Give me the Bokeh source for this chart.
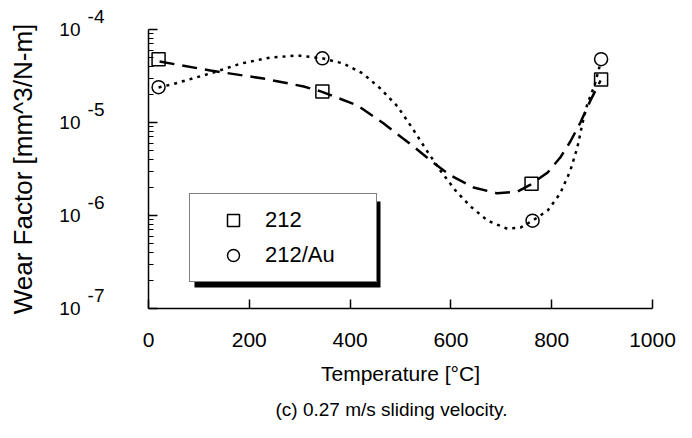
from bokeh.plotting import figure
from bokeh.models import (Range1d, FixedTicker, LogAxis, Legend, LegendItem,
                          BoxAnnotation, Title, CustomJSTickFormatter)
from bokeh.embed import file_html
from bokeh.resources import INLINE

FONT = "Liberation Sans"

# measured points
temp_212 = [20, 345, 760, 898]
wear_212 = [4.8e-5, 2.15e-5, 2.2e-6, 2.9e-5]
temp_au = [20, 345, 762, 898]
wear_au = [2.4e-5, 4.9e-5, 8.8e-7, 4.8e-5]

# fitted curves
curve_212_t = [22, 123, 228, 308, 343, 415, 466, 526, 565, 599, 645, 692, 732, 758,
               792, 817, 837, 857, 877, 897]
curve_212_w = [4.53e-5, 3.62e-5, 2.97e-5, 2.44e-5, 2.15e-5, 1.52e-5, 9.8e-6, 5.5e-6,
               3.7e-6, 2.7e-6, 2.0e-6, 1.73e-6, 1.81e-6, 2.15e-6, 2.9e-6, 4.2e-6,
               6.25e-6, 1.0e-5, 1.73e-5, 2.83e-5]
curve_au_t = [20, 50, 129, 183, 242, 296, 345, 387, 425, 460, 494, 524, 552, 579, 609,
              639, 673, 712, 738, 762, 792, 817, 837, 851, 861, 871, 885, 895]
curve_au_w = [2.38e-5, 2.6e-5, 3.45e-5, 4.3e-5, 5.0e-5, 5.25e-5, 4.9e-5, 4.3e-5,
              3.37e-5, 2.32e-5, 1.49e-5, 8.6e-6, 5.0e-6, 3.05e-6, 1.86e-6, 1.25e-6,
              8.8e-7, 7.2e-7, 7.4e-7, 8.8e-7, 1.13e-6, 1.73e-6, 3.05e-6, 5.4e-6,
              9.8e-6, 1.6e-5, 2.5e-5, 4.0e-5]

x_ticks = [0, 200, 400, 600, 800, 1000]
y_ticks = [1e-7, 1e-6, 1e-5, 1e-4]
y_tick_base = ["10", "10", "10", "10"]
y_tick_exp = ["-7", "-6", "-5", "-4"]
y_minor = [m * d for d in (1e-7, 1e-6, 1e-5) for m in range(2, 10)]

x_title = "Temperature [°C]"
y_title = "Wear Factor [mm^3/N-m]"
caption = "(c) 0.27 m/s sliding velocity."
labels = ["212", "212/Au"]

X0, X1 = 0, 1000
Y0, Y1 = 1e-7, 1e-4

p = figure(width=692, height=438, y_axis_type="log", output_backend="svg",
           toolbar_location=None, x_range=Range1d(X0, X1), y_range=Range1d(Y0, Y1),
           min_border_left=148, min_border_right=40, min_border_top=29,
           min_border_bottom=130)
p.outline_line_color = None
p.grid.grid_line_color = None
p.background_fill_color = "white"
p.border_fill_color = "white"

LABEL_JS = """
let best = 0, bd = Infinity;
for (let i = 0; i < tv.length; i++) {
  const d = Math.abs(Math.log10(tick) - Math.log10(tv[i]));
  if (d < bd) { bd = d; best = i; }
}
return tl[best];
"""

# axes
p.xaxis.ticker = FixedTicker(ticks=x_ticks)
p.yaxis.ticker = FixedTicker(ticks=y_ticks, minor_ticks=y_minor)
for ax in (p.xaxis[0], p.yaxis[0]):
    ax.axis_line_color = "black"
    ax.axis_line_width = 1.5
    ax.major_tick_line_color = "black"
    ax.major_tick_line_width = 1.5
    ax.major_tick_in = 9
    ax.major_tick_out = 0
    ax.axis_label_text_font = FONT
    ax.axis_label_text_font_style = "normal"
    ax.axis_label_text_color = "black"
    ax.major_label_text_font = FONT
    ax.major_label_text_color = "black"

p.xaxis.minor_tick_line_color = None
p.xaxis.major_label_text_font_size = "21px"
p.xaxis.major_label_standoff = 24
p.xaxis.axis_label = x_title
p.xaxis.axis_label_text_font_size = "21px"
p.xaxis.axis_label_standoff = 12

# inner left axis: line, ticks and the exponents (raised by a blank second line)
ya = p.yaxis[0]
ya.minor_tick_line_color = "black"
ya.minor_tick_line_width = 1.2
ya.minor_tick_in = 5
ya.minor_tick_out = 0
ya.formatter = CustomJSTickFormatter(
    args=dict(tv=y_ticks, tl=[e + "\n" for e in y_tick_exp]), code=LABEL_JS)
ya.major_label_text_font_size = "19px"
ya.major_label_standoff = 44

# outer left axis: the "10" bases and the axis title
yb = LogAxis(ticker=FixedTicker(ticks=y_ticks, minor_ticks=[]),
             formatter=CustomJSTickFormatter(args=dict(tv=y_ticks, tl=y_tick_base),
                                             code=LABEL_JS))
yb.axis_line_color = None
yb.major_tick_line_color = None
yb.minor_tick_line_color = None
yb.major_tick_in = 0
yb.major_tick_out = 0
yb.major_label_text_font = FONT
yb.major_label_text_font_size = "19px"
yb.major_label_text_color = "black"
yb.major_label_standoff = 4
yb.axis_label = y_title
yb.axis_label_text_font = FONT
yb.axis_label_text_font_style = "normal"
yb.axis_label_text_font_size = "26px"
yb.axis_label_text_color = "black"
yb.axis_label_standoff = 18
p.add_layout(yb, "left")

p.add_layout(Title(text=caption, align="left", offset=127, standoff=18,
                   text_font=FONT, text_font_size="19px", text_font_style="normal",
                   text_color="black"), "below")

# curves
p.line(curve_212_t, curve_212_w, line_color="black", line_width=2.5, line_dash="15 8")
p.line(curve_au_t, curve_au_w, line_color="black", line_width=2.5, line_dash="3 5")

# markers
sq = p.scatter(temp_212, wear_212, marker="square", size=13, line_color="black",
               line_width=1.5, fill_color="white", fill_alpha=0)
ci = p.scatter(temp_au, wear_au, marker="circle", size=13, line_color="black",
               line_width=1.5, fill_color="white", fill_alpha=0)

# legend shadow (pixel geometry converted to data space)
def xd(px):
    return (px - 148) / 504 * (X1 - X0)

def yd(py):
    return 10 ** (-4 - (py - 29) / 93.0)

p.add_layout(BoxAnnotation(left=xd(194), right=xd(380), top=yd(201), bottom=yd(287),
                           fill_color="black", fill_alpha=1, line_color=None))

legend = Legend(items=[LegendItem(label=labels[0], renderers=[sq]),
                       LegendItem(label=labels[1], renderers=[ci])],
                location=(41, 26), padding=11, margin=0, glyph_width=64,
                glyph_height=30, label_standoff=0, label_width=100, label_height=30,
                spacing=5, border_line_color="black", border_line_width=1.5,
                background_fill_color="white", background_fill_alpha=1,
                label_text_font=FONT, label_text_font_size="22px",
                label_text_color="black")
p.add_layout(legend, "center")

open("out.html", "w").write(file_html(p, INLINE))
